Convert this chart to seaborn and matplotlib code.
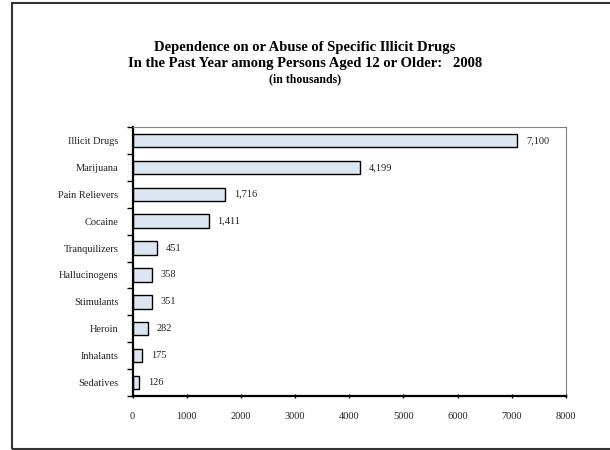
import pandas as pd
import matplotlib.pyplot as plt
import seaborn as sns
from matplotlib.patches import Rectangle

drugs = ['Illicit Drugs', 'Marijuana', 'Pain Relievers', 'Cocaine', 'Tranquilizers',
         'Hallucinogens', 'Stimulants', 'Heroin', 'Inhalants', 'Sedatives']
users = [7100, 4199, 1716, 1411, 451, 358, 351, 282, 175, 126]
x_ticks = [0, 1000, 2000, 3000, 4000, 5000, 6000, 7000, 8000]

data = pd.DataFrame({'drug': drugs, 'users': users})

sns.set_theme(style='white')
plt.rcParams['font.family'] = ['Liberation Serif', 'DejaVu Serif']

fig = plt.figure(figsize=(6.1, 4.5), dpi=100)
ax = fig.add_axes([132.5 / 610, 1 - 396 / 450, (566 - 132.5) / 610, (396 - 127) / 450])

sns.barplot(data=data, x='users', y='drug', orient='h', color='#dce6f2',
            edgecolor='black', linewidth=1.0, width=0.5, saturation=1, ax=ax)

for i, v in enumerate(users):
    ax.text(v + 160, i, f'{v:,}', va='center', ha='left', fontsize=7.5, color='#222222')

ax.set_xlim(0, 8000)
ax.set_ylim(9.5, -0.5)
ax.set_xticks(x_ticks)
ax.set_xticklabels([str(t) for t in x_ticks], fontsize=7.5, color='#222222')
ax.set_yticks([i - 0.5 for i in range(11)], minor=False)
ax.set_yticklabels([])
ax.set_yticks(range(10), minor=True)
ax.set_yticklabels(drugs, minor=True, fontsize=7.5, color='#222222')
ax.tick_params(axis='y', which='major', length=4, width=1, direction='out', color='black', left=True)
ax.tick_params(axis='y', which='minor', length=0, pad=10)
ax.tick_params(axis='x', which='major', length=3, width=1, direction='inout', color='black',
               bottom=True, pad=10)
ax.set_xlabel('')
ax.set_ylabel('')

for side in ['left', 'bottom']:
    ax.spines[side].set_color('black')
    ax.spines[side].set_linewidth(1.6)
for side in ['top', 'right']:
    ax.spines[side].set_color('#808080')
    ax.spines[side].set_linewidth(0.8)

fig.text(0.5, 1 - 48 / 450, 'Dependence on or Abuse of Specific Illicit Drugs',
         ha='center', va='center', fontsize=10.5, fontweight='bold', color='black')
fig.text(0.5, 1 - 64 / 450, 'In the Past Year among Persons Aged 12 or Older:   2008',
         ha='center', va='center', fontsize=10.5, fontweight='bold', color='black')
fig.text(0.5, 1 - 79.5 / 450, '(in thousands)',
         ha='center', va='center', fontsize=8.5, fontweight='bold', color='black')

fig.patches.append(Rectangle((12 / 610, 1 - 449 / 450), 1.0, 446 / 450,
                             transform=fig.transFigure, fill=False,
                             edgecolor='#333333', linewidth=1.5))

fig.savefig('out.png', dpi=100)
